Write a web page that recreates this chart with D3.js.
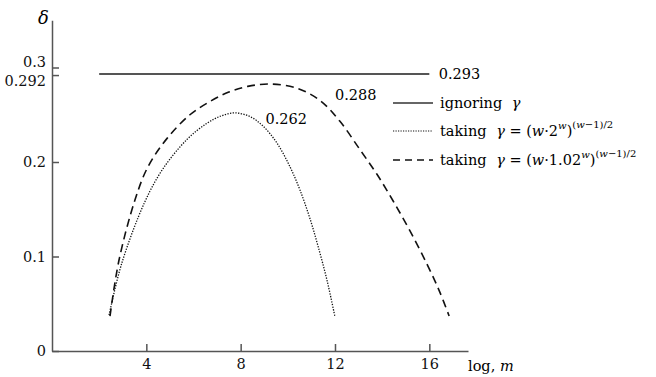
<!DOCTYPE html>
<html>
<head>
<meta charset="utf-8">
<script src="https://cdn.jsdelivr.net/npm/d3@7/dist/d3.min.js"></script>
<style>
  body { margin: 0; background: #fff; }
</style>
</head>
<body>
<div id="chart"></div>
<script>
// values
const xTicks = [4, 8, 12, 16];
const yTicks = [0, 0.1, 0.2, 0.292, 0.3];
const ignoringLevel = 0.293;
const ignoringRange = [2, 16];

// taking gamma = (w*2^w)^((w-1)/2)
const dottedX = [2.42, 2.96, 3.94, 4.71, 5.73, 6.57, 7.2, 7.76, 8.4, 8.95, 9.54, 10.09, 10.52, 10.94, 11.28, 11.66, 12.0];
const dottedY = [0.038, 0.093, 0.158, 0.193, 0.224, 0.241, 0.249, 0.252, 0.248, 0.238, 0.220, 0.195, 0.170, 0.140, 0.111, 0.075, 0.036];

// taking gamma = (w*1.02^w)^((w-1)/2)
const dashedX = [2.46, 2.84, 3.52, 4.07, 4.88, 5.85, 6.7, 7.5, 8.3, 9.25, 10.39, 11.37, 12.21, 13.06, 13.78, 14.46, 15.18, 15.9, 16.45, 16.84];
const dashedY = [0.037, 0.096, 0.160, 0.195, 0.225, 0.250, 0.264, 0.274, 0.280, 0.2825, 0.278, 0.265, 0.243, 0.213, 0.187, 0.159, 0.127, 0.092, 0.062, 0.037];

const peakLabels = [
  {text: '0.293', x: 16.4, y: 0.293},
  {text: '0.288', x: 12.0, y: 0.2705},
  {text: '0.262', x: 9.05, y: 0.2455}
];

const serif = "'DejaVu Serif', 'Liberation Serif', serif";
const fs = 14.5;
const width = 656, height = 377;
const svg = d3.select('#chart').append('svg')
  .attr('width', width)
  .attr('height', height)
  .attr('font-family', serif);

const x = d3.scaleLinear().domain([0, 17.64]).range([52, 468]);
const y = d3.scaleLinear().domain([0, 0.35]).range([351, 20.25]);

const axisColor = '#555';

// x axis
const gx = svg.append('g')
  .attr('transform', `translate(0,${y(0)})`)
  .call(d3.axisBottom(x).tickValues(xTicks).tickSize(-7).tickSizeOuter(0).tickPadding(8)
    .tickFormat(d3.format('d')));
gx.attr('font-family', serif).attr('font-size', fs);
gx.selectAll('.domain, line').attr('stroke', axisColor).attr('stroke-width', 1.5);
gx.selectAll('text').attr('fill', '#111');

// y axis
const gy = svg.append('g')
  .attr('transform', `translate(${x(0)},0)`)
  .call(d3.axisLeft(y).tickValues(yTicks).tickSize(-7).tickSizeOuter(0).tickPadding(6)
    .tickFormat(d => d === 0 ? '0' : String(d)));
gy.attr('font-family', serif).attr('font-size', fs);
gy.selectAll('.domain, line').attr('stroke', axisColor).attr('stroke-width', 1.5);
gy.selectAll('text').attr('fill', '#111')
  .attr('dy', d => d === 0.3 ? '-0.05em' : d === 0.292 ? '0.7em' : '0.32em');

// axis titles
svg.append('text')
  .attr('x', 38).attr('y', 24)
  .attr('font-size', 18).attr('font-style', 'italic')
  .text('δ');

const xt = svg.append('text')
  .attr('x', 468).attr('y', 371)
  .attr('font-size', fs);
xt.append('tspan').text('log, ');
xt.append('tspan').attr('font-style', 'italic').text('m');

// ignoring gamma line
svg.append('line')
  .attr('x1', x(ignoringRange[0])).attr('x2', x(ignoringRange[1]))
  .attr('y1', y(ignoringLevel)).attr('y2', y(ignoringLevel))
  .attr('stroke', '#555').attr('stroke-width', 2);

const line = d3.line().x(d => x(d[0])).y(d => y(d[1])).curve(d3.curveCatmullRom.alpha(0.5));

svg.append('path')
  .datum(dottedX.map((v, i) => [v, dottedY[i]]))
  .attr('d', line)
  .attr('fill', 'none').attr('stroke', '#111').attr('stroke-width', 1.3)
  .attr('stroke-dasharray', '1.3 1.4');

svg.append('path')
  .datum(dashedX.map((v, i) => [v, dashedY[i]]))
  .attr('d', line)
  .attr('fill', 'none').attr('stroke', '#111').attr('stroke-width', 1.6)
  .attr('stroke-dasharray', '8 5');

svg.selectAll('text.peak')
  .data(peakLabels)
  .join('text')
  .attr('class', 'peak')
  .attr('x', d => x(d.x)).attr('y', d => y(d.y))
  .attr('dy', '0.35em')
  .attr('font-size', fs)
  .text(d => d.text);

// legend
const legend = svg.append('g');
const legendRows = [
  {y: 103, dash: null, color: '#333', w: 1.5, base: '2'},
  {y: 131, dash: '1.2 1.3', color: '#111', w: 1.2, base: '2'},
  {y: 160, dash: '7 5', color: '#111', w: 1.5, base: '1.02'}
];
legendRows.forEach((r, i) => {
  legend.append('line')
    .attr('x1', 393).attr('x2', 433).attr('y1', r.y).attr('y2', r.y)
    .attr('stroke', r.color).attr('stroke-width', r.w)
    .attr('stroke-dasharray', r.dash);
  const t = legend.append('text')
    .attr('x', 440).attr('y', r.y + 5)
    .attr('font-size', fs);
  if (i === 0) {
    t.append('tspan').text('ignoring ');
    t.append('tspan').attr('dx', 5).attr('font-style', 'italic').text('γ');
    return;
  }
  t.append('tspan').text('taking ');
  t.append('tspan').attr('dx', 5).attr('font-style', 'italic').text('γ');
  t.append('tspan').text(' = (');
  t.append('tspan').attr('font-style', 'italic').text('w');
  t.append('tspan').text('·' + r.base);
  t.append('tspan').attr('font-style', 'italic').attr('font-size', 10).attr('dy', -7).text('w');
  t.append('tspan').attr('dy', 7).text(')');
  t.append('tspan').attr('font-size', 10).attr('dy', -8).text('(');
  t.append('tspan').attr('font-size', 10).attr('font-style', 'italic').text('w');
  t.append('tspan').attr('font-size', 10).text('−1)/2');
});
</script>
</body>
</html>
